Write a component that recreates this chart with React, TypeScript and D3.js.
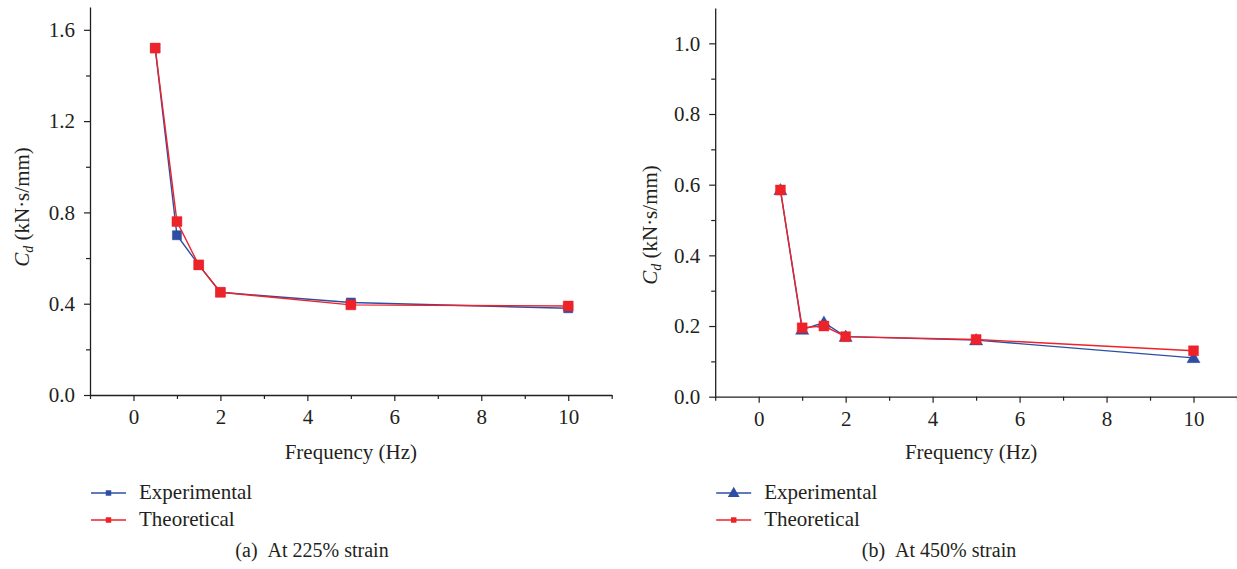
import React, { useRef, useEffect } from "react";
import * as d3 from "d3";

// frequency (Hz) at which Cd was measured
const freq = [0.5, 1, 1.5, 2, 5, 10];

// (a) 225% strain
const expA = [1.52, 0.70, 0.57, 0.45, 0.405, 0.38];
const theoA = [1.52, 0.76, 0.57, 0.45, 0.395, 0.39];

// (b) 450% strain
const expB = [0.585, 0.19, 0.21, 0.17, 0.16, 0.11];
const theoB = [0.585, 0.195, 0.20, 0.17, 0.162, 0.13];

const xMajor = [0, 2, 4, 6, 8, 10];
const xMinor = [-1, 1, 3, 5, 7, 9, 11];
const yMajorA = [0, 0.4, 0.8, 1.2, 1.6];
const yMinorA = [0.2, 0.6, 1.0, 1.4];
const yMajorB = [0, 0.2, 0.4, 0.6, 0.8, 1.0];
const yMinorB = [0.1, 0.3, 0.5, 0.7, 0.9];

const seriesNames = ["Experimental", "Theoretical"];
const captions = ["(a)\u00a0\u00a0At 225% strain", "(b)\u00a0\u00a0At 450% strain"];

const BLUE = "#2d4ea2";
const RED = "#ee2229";
const FONT = "Liberation Serif, Times New Roman, Times, DejaVu Serif, serif";
const INK = "#231f20";

const W = 1237;
const H = 569;

const panels = [
  {
    x0: 90, x1: 611.7, y0: 395, y1: 7, yMax: 1.7,
    yMajor: yMajorA, yMinor: yMinorA, exp: expA, theo: theoA,
    expShape: "square", labelX: 22, labelY: 207, caption: captions[0], captionX: 312,
  },
  {
    x0: 715.2, x1: 1237, y0: 396.7, y1: 8, yMax: 1.1,
    yMajor: yMajorB, yMinor: yMinorB, exp: expB, theo: theoB,
    expShape: "triangle", labelX: 650, labelY: 225, caption: captions[1], captionX: 939,
  },
];

const App = () => {
  const svgRef = useRef(null);

  useEffect(() => {
    const svg = d3.select(svgRef.current);
    svg.selectAll("*").remove();

    panels.forEach((p) => {
      const x = d3.scaleLinear().domain([-1, 11]).range([p.x0, p.x1]);
      const y = d3.scaleLinear().domain([0, p.yMax]).range([p.y0, p.y1]);
      const g = svg.append("g");

      // minor ticks
      g.append("g")
        .attr("transform", `translate(0,${p.y0})`)
        .call(d3.axisBottom(x).tickValues(xMinor).tickSize(4).tickSizeOuter(0).tickFormat(() => ""))
        .call((a) => a.select(".domain").remove());
      g.append("g")
        .attr("transform", `translate(${p.x0},0)`)
        .call(d3.axisLeft(y).tickValues(p.yMinor).tickSize(4).tickSizeOuter(0).tickFormat(() => ""))
        .call((a) => a.select(".domain").remove());

      // major ticks and labels
      const xa = g.append("g")
        .attr("transform", `translate(0,${p.y0})`)
        .call(d3.axisBottom(x).tickValues(xMajor).tickSize(6).tickSizeOuter(0).tickPadding(8).tickFormat(d3.format("d")));
      const ya = g.append("g")
        .attr("transform", `translate(${p.x0},0)`)
        .call(d3.axisLeft(y).tickValues(p.yMajor).tickSize(6).tickSizeOuter(0).tickPadding(9).tickFormat(d3.format(".1f")));

      [xa, ya].forEach((a) => {
        a.selectAll("text").attr("font-family", FONT).attr("font-size", 21).attr("fill", INK);
        a.select(".domain").attr("stroke", INK).attr("stroke-width", 1.3);
      });
      g.selectAll(".tick line").attr("stroke", INK).attr("stroke-width", 1.2);

      // axis titles
      g.append("text")
        .attr("x", (p.x0 + p.x1) / 2 + (p.x0 === 90 ? 0 : -5))
        .attr("y", 459)
        .attr("text-anchor", "middle")
        .attr("font-family", FONT)
        .attr("font-size", 21)
        .attr("fill", INK)
        .text("Frequency (Hz)");

      const yl = g.append("text")
        .attr("transform", `translate(${p.labelX + 7},${p.labelY}) rotate(-90)`)
        .attr("text-anchor", "middle")
        .attr("font-family", FONT)
        .attr("font-size", 21)
        .attr("fill", INK);
      yl.append("tspan").attr("font-style", "italic").text("C");
      yl.append("tspan").attr("font-style", "italic").attr("font-size", 14).attr("dy", 4).text("d");
      yl.append("tspan").attr("dy", -4).text(" (kN·s/mm)");

      // series
      const line = d3.line().x((d) => x(d[0])).y((d) => y(d[1]));
      const drawSeries = (vals, color, shape, size) => {
        const pts = freq.map((f, i) => [f, vals[i]]);
        g.append("path")
          .attr("d", line(pts))
          .attr("fill", "none")
          .attr("stroke", color)
          .attr("stroke-width", 1.4);
        const sym = shape === "triangle" ? d3.symbolTriangle : d3.symbolSquare;
        g.append("g")
          .selectAll("path")
          .data(pts)
          .join("path")
          .attr("transform", (d) => `translate(${x(d[0])},${y(d[1]) + (shape === "triangle" ? 1 : 0)})`)
          .attr("d", d3.symbol(sym, size))
          .attr("fill", color)
          .attr("stroke", color)
          .attr("stroke-opacity", 0.4)
          .attr("stroke-width", 1);
      };
      drawSeries(p.exp, BLUE, p.expShape, p.expShape === "triangle" ? 75 : 85);
      drawSeries(p.theo, RED, "square", 100);

      // legend
      const lx = p.x0 + 1;
      [BLUE, RED].forEach((c, i) => {
        const ly = 493 + i * 27;
        g.append("line")
          .attr("x1", lx).attr("x2", lx + 35)
          .attr("y1", ly).attr("y2", ly)
          .attr("stroke", c).attr("stroke-width", 1.4);
        const shape = i === 0 ? p.expShape : "square";
        g.append("path")
          .attr("transform", `translate(${lx + 17.5},${ly + (shape === "triangle" ? 0.5 : 0)})`)
          .attr("d", d3.symbol(shape === "triangle" ? d3.symbolTriangle : d3.symbolSquare, shape === "triangle" ? 60 : 30))
          .attr("fill", c);
        g.append("text")
          .attr("x", lx + 48)
          .attr("y", ly + 6)
          .attr("font-family", FONT)
          .attr("font-size", 21)
          .attr("fill", INK)
          .text(seriesNames[i]);
      });

      g.append("text")
        .attr("x", p.captionX)
        .attr("y", 557)
        .attr("text-anchor", "middle")
        .attr("font-family", FONT)
        .attr("font-size", 20)
        .attr("fill", INK)
        .text(p.caption);
    });
  }, []);

  return (
    <div style={{ position: "absolute", left: 0, top: 0, width: W, height: H, background: "#fff" }}>
      <svg ref={svgRef} width={W} height={H} style={{ display: "block" }} />
    </div>
  );
};

export default App;
